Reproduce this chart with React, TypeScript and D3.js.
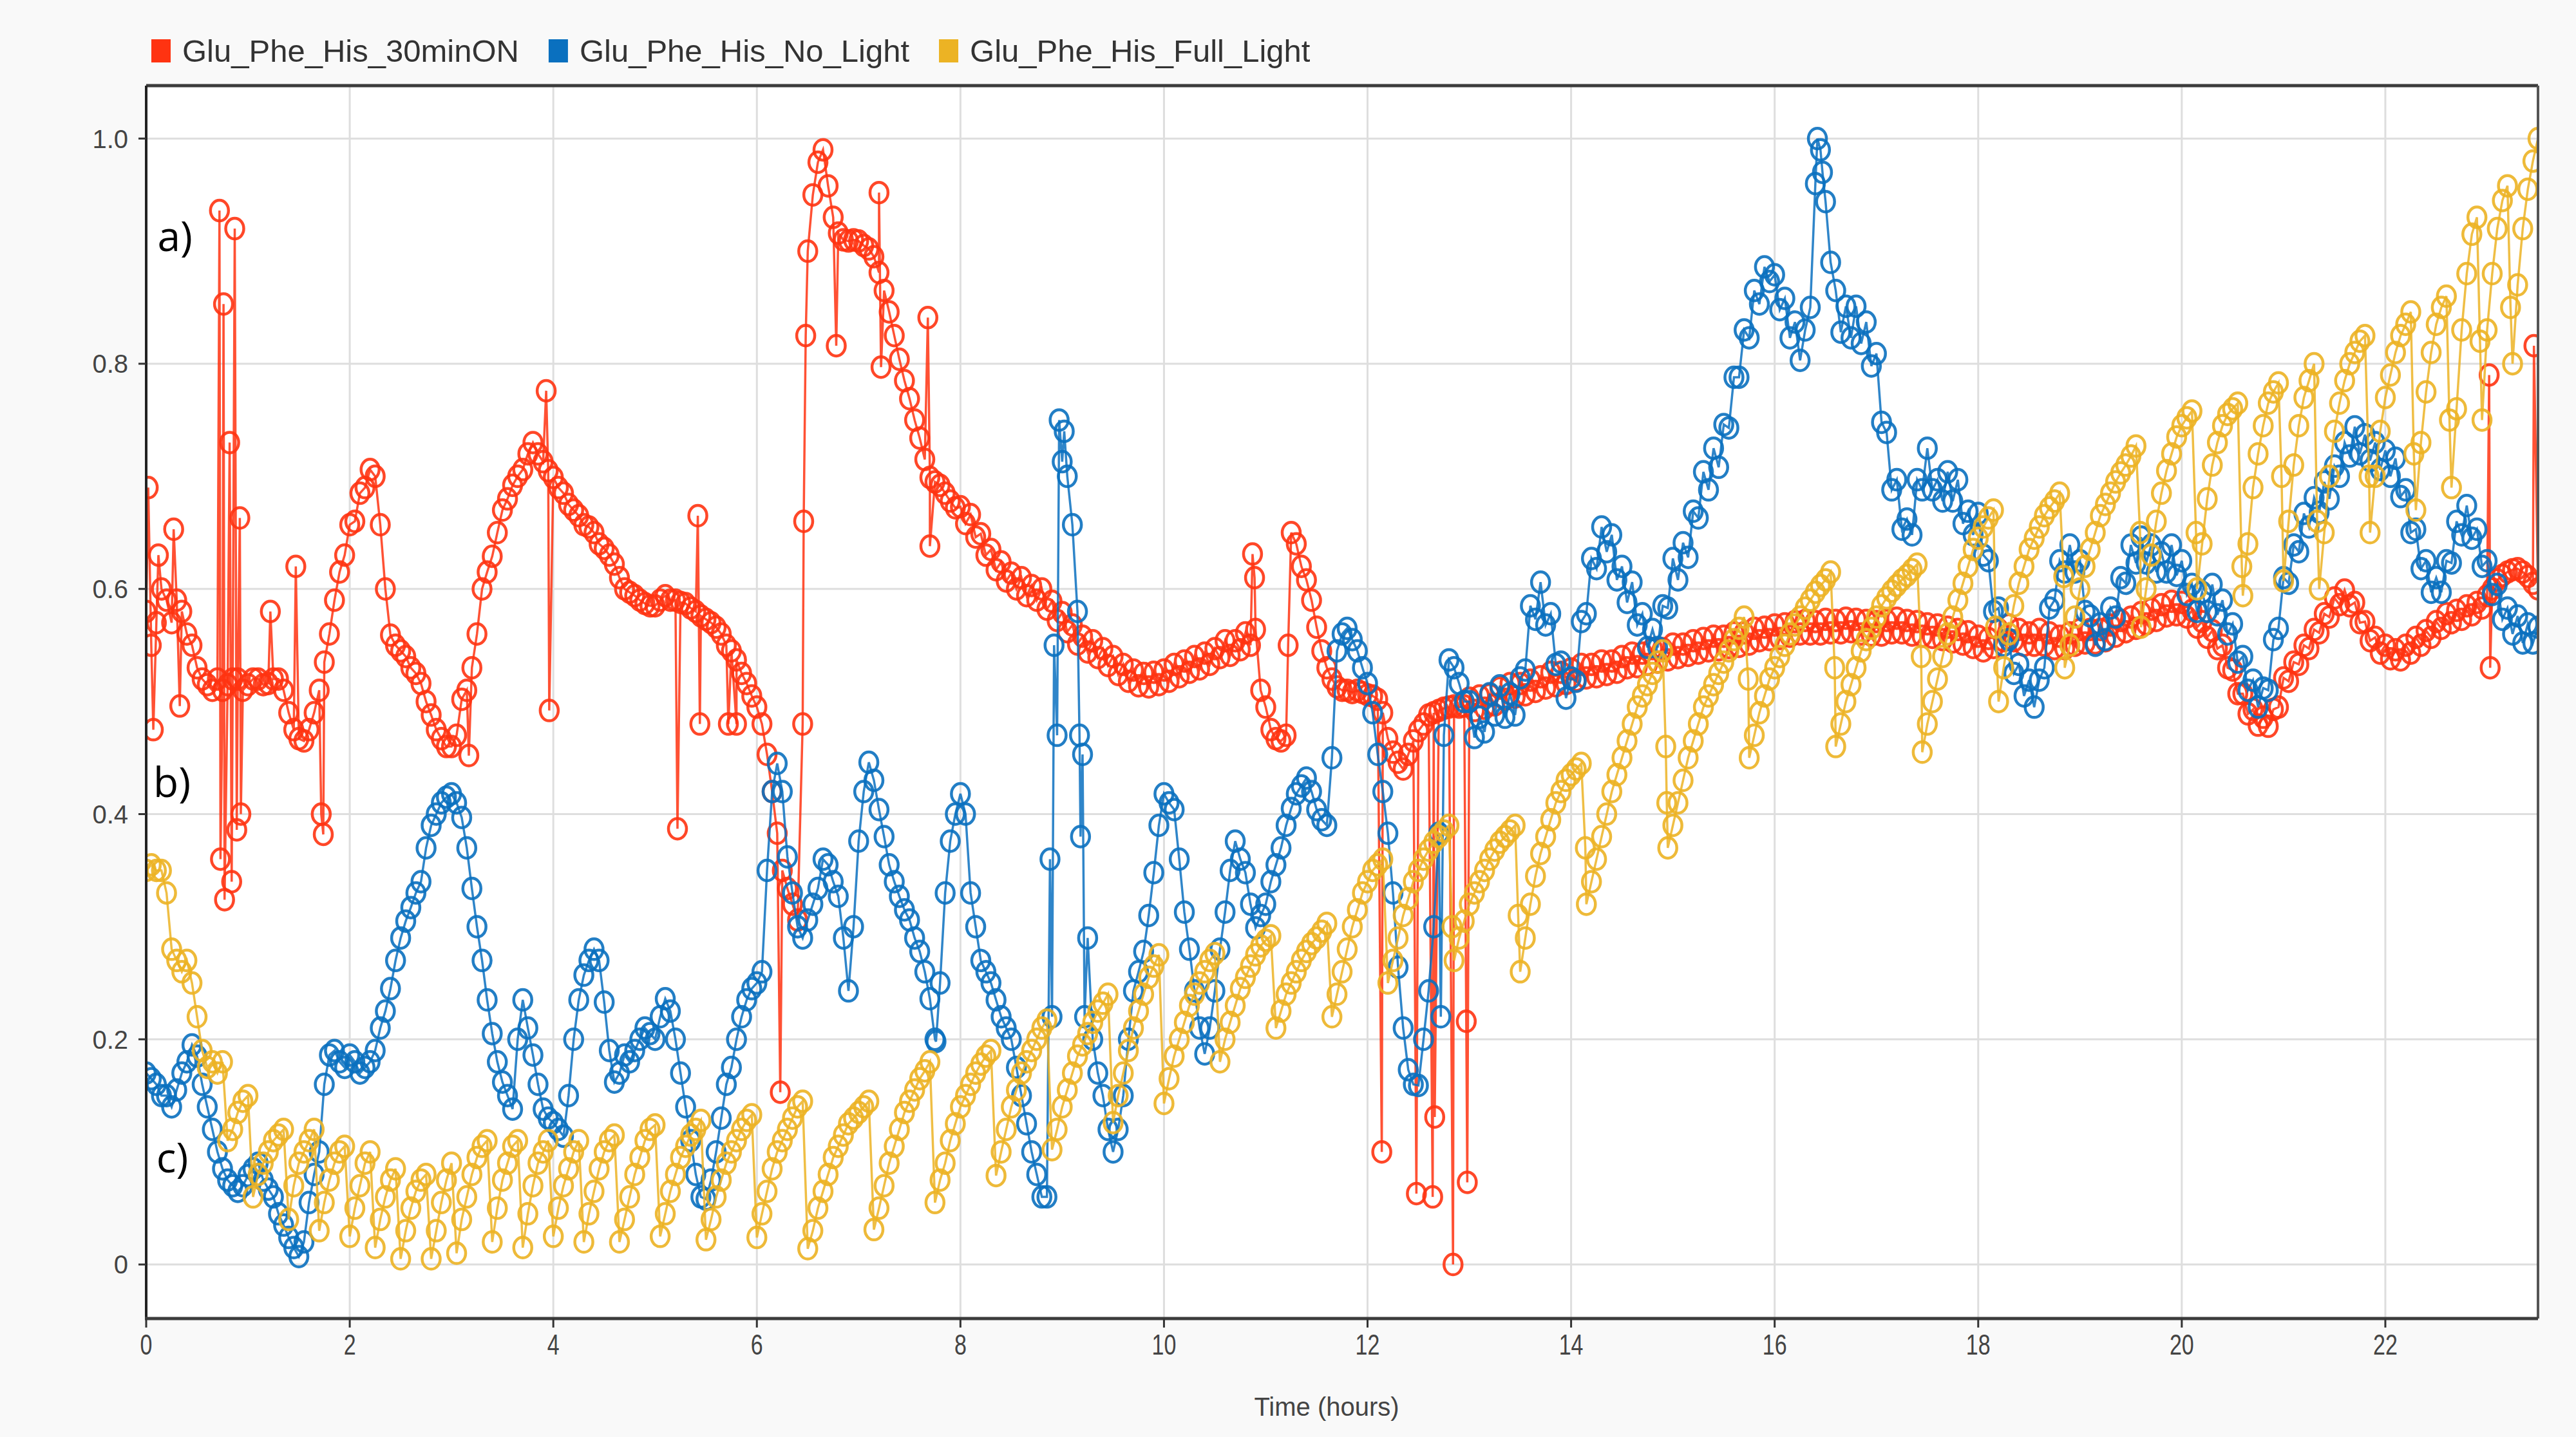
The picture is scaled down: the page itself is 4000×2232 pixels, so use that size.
import React, { useEffect, useRef } from 'react';
import * as d3 from 'd3';

// samples are 3 minutes apart (0.05 h), starting at t = 0
const SAMPLE_STEP = 0.05;

const seriesNames = ['Glu_Phe_His_30minON', 'Glu_Phe_His_No_Light', 'Glu_Phe_His_Full_Light'];
const seriesColors = ['#ff3311', '#0a70bf', '#ecb324'];

const xTicks = [0, 2, 4, 6, 8, 10, 12, 14, 16, 18, 20, 22];
const yTicks = [0, 0.2, 0.4, 0.6, 0.8, 1.0];
const panelLabels = ['a)', 'b)', 'c)'];

// Glu_Phe_His_30minON, one row per hour
const red30minOn = [
  0.58, 0.55, 0.57, 0.6, 0.59, 0.57, 0.59, 0.58, 0.56, 0.55, 0.53, 0.52, 0.515, 0.51, 0.52, 0.51, 0.515, 0.52, 0.52, 0.51,
  0.515, 0.52, 0.52, 0.515, 0.516, 0.52, 0.52, 0.51, 0.49, 0.475, 0.467, 0.465, 0.475, 0.49, 0.51, 0.535, 0.56, 0.59, 0.615, 0.63,
  0.657, 0.66, 0.685, 0.69, 0.706, 0.7, 0.657, 0.6, 0.559, 0.55, 0.545, 0.54, 0.53, 0.525, 0.516, 0.5, 0.488, 0.475, 0.467, 0.46,
  0.46, 0.47, 0.502, 0.51, 0.53, 0.56, 0.6, 0.615, 0.629, 0.65, 0.67, 0.68, 0.692, 0.7, 0.706, 0.72, 0.73, 0.72, 0.713, 0.705,
  0.699, 0.69, 0.685, 0.675, 0.67, 0.665, 0.657, 0.655, 0.65, 0.64, 0.636, 0.63, 0.622, 0.61, 0.6, 0.597, 0.594, 0.59, 0.587, 0.585,
  0.585, 0.59, 0.594, 0.59, 0.59, 0.588, 0.587, 0.583, 0.58, 0.576, 0.573, 0.57, 0.566, 0.56, 0.55, 0.545, 0.537, 0.525, 0.516, 0.505,
  0.495, 0.48, 0.453, 0.42, 0.383, 0.35, 0.334, 0.32, 0.306, 0.48, 0.9, 0.95, 0.979, 0.99, 0.958, 0.93, 0.916, 0.91, 0.909, 0.91,
  0.909, 0.905, 0.902, 0.895, 0.881, 0.865, 0.846, 0.825, 0.804, 0.785, 0.769, 0.75, 0.734, 0.715, 0.699, 0.695, 0.692, 0.685, 0.678, 0.672,
  0.673, 0.658, 0.666, 0.646, 0.649, 0.63, 0.635, 0.617, 0.624, 0.607, 0.614, 0.6, 0.61, 0.594, 0.603, 0.59, 0.6, 0.582, 0.589, 0.572,
  0.579, 0.562, 0.568, 0.551, 0.558, 0.544, 0.554, 0.539, 0.547, 0.532, 0.54, 0.524, 0.533, 0.518, 0.528, 0.514, 0.525, 0.513, 0.526, 0.515,
  0.528, 0.518, 0.533, 0.522, 0.536, 0.526, 0.54, 0.529, 0.543, 0.533, 0.547, 0.539, 0.554, 0.541, 0.554, 0.546, 0.561, 0.55, 0.564, 0.51,
  0.495, 0.475, 0.467, 0.465, 0.47, 0.65, 0.64, 0.62, 0.608, 0.59, 0.566, 0.545, 0.53, 0.52, 0.513, 0.51, 0.51, 0.508, 0.51, 0.508,
  0.506, 0.505, 0.502, 0.49, 0.467, 0.455, 0.446, 0.44, 0.453, 0.465, 0.474, 0.48, 0.488, 0.49, 0.492, 0.494, 0.495, 0.496, 0.495, 0.496,
  0.503, 0.492, 0.505, 0.494, 0.506, 0.497, 0.512, 0.502, 0.516, 0.504, 0.516, 0.506, 0.519, 0.509, 0.522, 0.512, 0.526, 0.514, 0.526, 0.516,
  0.529, 0.519, 0.533, 0.521, 0.533, 0.522, 0.536, 0.524, 0.536, 0.526, 0.54, 0.53, 0.543, 0.531, 0.543, 0.533, 0.547, 0.535, 0.547, 0.537,
  0.551, 0.539, 0.551, 0.541, 0.554, 0.543, 0.556, 0.545, 0.558, 0.546, 0.558, 0.548, 0.561, 0.549, 0.561, 0.551, 0.565, 0.554, 0.566, 0.555,
  0.568, 0.556, 0.569, 0.558, 0.571, 0.56, 0.572, 0.56, 0.571, 0.56, 0.573, 0.561, 0.572, 0.561, 0.574, 0.562, 0.573, 0.56, 0.572, 0.559,
  0.571, 0.559, 0.572, 0.561, 0.574, 0.561, 0.572, 0.559, 0.571, 0.558, 0.569, 0.557, 0.568, 0.555, 0.566, 0.553, 0.564, 0.551, 0.562, 0.548,
  0.558, 0.545, 0.556, 0.548, 0.564, 0.554, 0.568, 0.554, 0.564, 0.55, 0.561, 0.55, 0.564, 0.55, 0.561, 0.547, 0.558, 0.547, 0.561, 0.55,
  0.564, 0.552, 0.564, 0.552, 0.564, 0.554, 0.568, 0.558, 0.572, 0.562, 0.575, 0.565, 0.579, 0.569, 0.582, 0.572, 0.586, 0.576, 0.589, 0.577,
  0.588, 0.575, 0.581, 0.566, 0.571, 0.557, 0.563, 0.547, 0.55, 0.53, 0.528, 0.507, 0.507, 0.489, 0.493, 0.479, 0.486, 0.478, 0.493, 0.495,
  0.521, 0.518, 0.535, 0.533, 0.55, 0.547, 0.564, 0.561, 0.578, 0.575, 0.592, 0.586, 0.599, 0.585, 0.588, 0.57, 0.571, 0.554, 0.557, 0.543,
  0.55, 0.538, 0.546, 0.537, 0.55, 0.543, 0.557, 0.55, 0.563, 0.557, 0.571, 0.565, 0.578, 0.57, 0.581, 0.573, 0.585, 0.577, 0.588, 0.583,
  0.594, 0.6, 0.608, 0.612, 0.615, 0.617, 0.618, 0.615, 0.611, 0.605, 0.6,
];

// isolated readings between regular samples: [hours, value]
const red30minOnSpikes: [number, number][] = [
  [0.02, 0.69], [0.07, 0.475], [0.12, 0.63], [0.27, 0.653], [0.33, 0.496],
  [0.72, 0.936], [0.73, 0.36], [0.76, 0.853], [0.77, 0.324], [0.82, 0.73], [0.84, 0.34],
  [0.87, 0.92], [0.89, 0.386], [0.92, 0.663], [0.93, 0.4],
  [1.22, 0.58], [1.47, 0.62], [1.72, 0.4], [1.74, 0.382],
  [3.17, 0.452], [3.93, 0.776], [3.96, 0.492],
  [5.22, 0.387], [5.42, 0.665], [5.44, 0.48], [5.72, 0.48], [5.8, 0.48],
  [6.23, 0.153], [6.46, 0.66], [6.48, 0.825],
  [6.78, 0.816], [7.2, 0.952], [7.22, 0.797], [7.68, 0.841], [7.7, 0.638],
  [10.87, 0.631], [10.89, 0.61], [11.22, 0.55],
  [12.14, 0.1], [12.48, 0.063], [12.64, 0.06], [12.66, 0.131], [12.84, 0.0], [12.97, 0.216], [12.98, 0.073],
  [23.02, 0.79], [23.03, 0.53], [23.46, 0.816],
];

// Glu_Phe_His_No_Light, one row per hour
const blueNoLight = [
  0.17, 0.165, 0.16, 0.15, 0.15, 0.14, 0.155, 0.17, 0.18, 0.195, 0.185, 0.16, 0.14, 0.12, 0.1, 0.085, 0.075, 0.07, 0.065, 0.07,
  0.079, 0.085, 0.09, 0.075, 0.067, 0.06, 0.045, 0.035, 0.024, 0.015, 0.007, 0.02, 0.055, 0.08, 0.1, 0.16, 0.186, 0.19, 0.18, 0.175,
  0.186, 0.18, 0.17, 0.175, 0.18, 0.19, 0.21, 0.225, 0.245, 0.27, 0.29, 0.305, 0.317, 0.33, 0.34, 0.37, 0.39, 0.4, 0.41, 0.415,
  0.418, 0.41, 0.397, 0.37, 0.334, 0.3, 0.27, 0.235, 0.205, 0.18, 0.162, 0.15, 0.138, 0.2, 0.235, 0.21, 0.186, 0.16, 0.138, 0.13,
  0.126, 0.12, 0.114, 0.15, 0.2, 0.235, 0.257, 0.27, 0.28, 0.27, 0.233, 0.19, 0.162, 0.17, 0.186, 0.18, 0.19, 0.2, 0.21, 0.205,
  0.2, 0.22, 0.236, 0.225, 0.2, 0.17, 0.14, 0.11, 0.08, 0.06, 0.058, 0.075, 0.1, 0.13, 0.16, 0.175, 0.2, 0.22, 0.235, 0.245,
  0.25, 0.26, 0.35, 0.42, 0.445, 0.42, 0.362, 0.33, 0.3, 0.29, 0.306, 0.32, 0.334, 0.36, 0.355, 0.34, 0.327, 0.29, 0.243, 0.3,
  0.376, 0.42, 0.446, 0.43, 0.404, 0.38, 0.355, 0.34, 0.327, 0.315, 0.306, 0.29, 0.278, 0.26, 0.236, 0.2, 0.25, 0.33, 0.376, 0.4,
  0.418, 0.4, 0.33, 0.3, 0.27, 0.26, 0.25, 0.235, 0.22, 0.21, 0.2, 0.175, 0.15, 0.125, 0.1, 0.08, 0.06, 0.06, 0.22, 0.47,
  0.713, 0.7, 0.657, 0.58, 0.453, 0.29, 0.2, 0.17, 0.15, 0.12, 0.1, 0.12, 0.15, 0.2, 0.243, 0.26, 0.278, 0.31, 0.348, 0.39,
  0.418, 0.41, 0.404, 0.36, 0.313, 0.28, 0.243, 0.21, 0.187, 0.21, 0.243, 0.28, 0.313, 0.35, 0.376, 0.36, 0.348, 0.32, 0.299, 0.31,
  0.32, 0.34, 0.355, 0.37, 0.39, 0.405, 0.418, 0.425, 0.432, 0.42, 0.404, 0.395, 0.39, 0.45, 0.545, 0.56, 0.565, 0.555, 0.545, 0.53,
  0.516, 0.49, 0.453, 0.42, 0.383, 0.33, 0.264, 0.21, 0.173, 0.16, 0.159, 0.2, 0.243, 0.3, 0.383, 0.47, 0.537, 0.53, 0.516, 0.5,
  0.5, 0.468, 0.486, 0.473, 0.507, 0.488, 0.514, 0.486, 0.507, 0.488, 0.521, 0.528, 0.585, 0.573, 0.606, 0.568, 0.578, 0.533, 0.535, 0.503,
  0.521, 0.518, 0.571, 0.578, 0.627, 0.618, 0.655, 0.633, 0.648, 0.608, 0.62, 0.588, 0.606, 0.568, 0.578, 0.548, 0.564, 0.548, 0.585, 0.583,
  0.627, 0.608, 0.641, 0.628, 0.669, 0.663, 0.704, 0.688, 0.725, 0.708, 0.746, 0.743, 0.788, 0.788, 0.83, 0.823, 0.865, 0.853, 0.886, 0.873,
  0.879, 0.848, 0.858, 0.823, 0.837, 0.803, 0.83, 0.85, 0.96, 0.99, 0.944, 0.89, 0.865, 0.828, 0.851, 0.823, 0.851, 0.818, 0.837, 0.798,
  0.809, 0.748, 0.739, 0.688, 0.697, 0.653, 0.662, 0.648, 0.697, 0.688, 0.725, 0.688, 0.697, 0.678, 0.704, 0.678, 0.697, 0.658, 0.669, 0.648,
  0.667, 0.63, 0.625, 0.58, 0.583, 0.55, 0.555, 0.525, 0.533, 0.505, 0.519, 0.495, 0.519, 0.53, 0.583, 0.59, 0.625, 0.615, 0.639, 0.615,
  0.625, 0.58, 0.576, 0.55, 0.569, 0.555, 0.583, 0.575, 0.61, 0.605, 0.639, 0.623, 0.646, 0.623, 0.639, 0.615, 0.632, 0.615, 0.639, 0.612,
  0.625, 0.595, 0.604, 0.58, 0.597, 0.58, 0.604, 0.577, 0.59, 0.56, 0.569, 0.535, 0.54, 0.51, 0.519, 0.495, 0.512, 0.51, 0.555, 0.565,
  0.61, 0.605, 0.639, 0.633, 0.667, 0.655, 0.681, 0.668, 0.695, 0.68, 0.709, 0.7, 0.73, 0.718, 0.744, 0.72, 0.737, 0.714, 0.73, 0.706,
  0.723, 0.7, 0.716, 0.682, 0.688, 0.65, 0.653, 0.618, 0.625, 0.597, 0.61, 0.597, 0.625, 0.623, 0.66, 0.648, 0.674, 0.645, 0.653, 0.62,
  0.625, 0.595, 0.604, 0.573, 0.583, 0.56, 0.576, 0.552, 0.569, 0.552, 0.566,
];

const blueNoLightSpikes: [number, number][] = [
  [7.76, 0.198], [8.88, 0.36], [8.92, 0.55], [8.97, 0.75], [9.02, 0.74],
  [9.17, 0.47], [9.18, 0.38], [9.22, 0.22], [12.72, 0.22], [16.42, 1.0], [16.47, 0.97],
];

// Glu_Phe_His_Full_Light, one row per hour
const yellowFullLight = [
  0.35, 0.355, 0.35, 0.35, 0.33, 0.28, 0.27, 0.26, 0.27, 0.25, 0.22, 0.19, 0.175, 0.18, 0.17, 0.18, 0.11, 0.12, 0.135, 0.145,
  0.15, 0.06, 0.08, 0.09, 0.1, 0.11, 0.115, 0.12, 0.04, 0.07, 0.09, 0.1, 0.11, 0.12, 0.03, 0.055, 0.075, 0.09, 0.1, 0.105,
  0.025, 0.05, 0.07, 0.09, 0.1, 0.015, 0.04, 0.06, 0.075, 0.085, 0.005, 0.03, 0.05, 0.065, 0.075, 0.08, 0.005, 0.03, 0.055, 0.075,
  0.09, 0.01, 0.04, 0.06, 0.08, 0.095, 0.105, 0.11, 0.02, 0.05, 0.075, 0.09, 0.105, 0.11, 0.015, 0.045, 0.07, 0.09, 0.1, 0.11,
  0.025, 0.05, 0.07, 0.085, 0.1, 0.11, 0.02, 0.045, 0.065, 0.085, 0.1, 0.11, 0.115, 0.02, 0.04, 0.06, 0.08, 0.095, 0.11, 0.12,
  0.124, 0.025, 0.045, 0.065, 0.08, 0.095, 0.105, 0.115, 0.12, 0.128, 0.022, 0.04, 0.06, 0.075, 0.09, 0.1, 0.11, 0.12, 0.128, 0.133,
  0.024, 0.045, 0.065, 0.085, 0.1, 0.11, 0.12, 0.13, 0.14, 0.145, 0.014, 0.03, 0.05, 0.065, 0.08, 0.095, 0.105, 0.115, 0.125, 0.13,
  0.135, 0.14, 0.145, 0.031, 0.05, 0.07, 0.09, 0.105, 0.12, 0.135, 0.145, 0.155, 0.165, 0.172, 0.18, 0.055, 0.075, 0.09, 0.11, 0.125,
  0.14, 0.15, 0.16, 0.17, 0.178, 0.185, 0.19, 0.079, 0.1, 0.12, 0.14, 0.155, 0.17, 0.18, 0.19, 0.2, 0.21, 0.217, 0.102, 0.12,
  0.14, 0.155, 0.17, 0.185, 0.195, 0.205, 0.215, 0.225, 0.232, 0.24, 0.126, 0.15, 0.17, 0.19, 0.21, 0.225, 0.24, 0.255, 0.265, 0.275,
  0.143, 0.165, 0.185, 0.2, 0.215, 0.23, 0.24, 0.25, 0.26, 0.27, 0.276, 0.18, 0.2, 0.215, 0.23, 0.245, 0.255, 0.265, 0.275, 0.283,
  0.288, 0.292, 0.21, 0.225, 0.24, 0.25, 0.26, 0.27, 0.278, 0.285, 0.29, 0.296, 0.303, 0.22, 0.24, 0.26, 0.28, 0.3, 0.315, 0.33,
  0.34, 0.35, 0.355, 0.36, 0.25, 0.27, 0.29, 0.31, 0.325, 0.34, 0.35, 0.36, 0.368, 0.375, 0.38, 0.385, 0.39, 0.27, 0.29, 0.305,
  0.32, 0.33, 0.34, 0.35, 0.36, 0.368, 0.375, 0.38, 0.385, 0.39, 0.26, 0.29, 0.32, 0.345, 0.365, 0.38, 0.395, 0.41, 0.42, 0.43,
  0.435, 0.44, 0.445, 0.32, 0.34, 0.36, 0.38, 0.4, 0.42, 0.435, 0.45, 0.465, 0.48, 0.495, 0.505, 0.515, 0.525, 0.535, 0.545, 0.37,
  0.39, 0.41, 0.43, 0.45, 0.465, 0.48, 0.495, 0.505, 0.515, 0.525, 0.535, 0.545, 0.555, 0.565, 0.575, 0.45, 0.47, 0.49, 0.505, 0.52,
  0.53, 0.54, 0.55, 0.56, 0.568, 0.575, 0.583, 0.59, 0.597, 0.603, 0.608, 0.615, 0.46, 0.48, 0.5, 0.515, 0.53, 0.545, 0.555, 0.565,
  0.575, 0.585, 0.592, 0.598, 0.603, 0.608, 0.612, 0.617, 0.622, 0.455, 0.48, 0.5, 0.52, 0.54, 0.56, 0.575, 0.59, 0.605, 0.62, 0.635,
  0.645, 0.655, 0.663, 0.67, 0.5, 0.53, 0.56, 0.585, 0.605, 0.62, 0.635, 0.645, 0.655, 0.665, 0.672, 0.678, 0.685, 0.53, 0.55, 0.575,
  0.6, 0.62, 0.635, 0.65, 0.665, 0.675, 0.685, 0.695, 0.703, 0.71, 0.718, 0.727, 0.566, 0.6, 0.63, 0.66, 0.685, 0.705, 0.72, 0.735,
  0.745, 0.752, 0.758, 0.6, 0.64, 0.68, 0.71, 0.73, 0.745, 0.755, 0.76, 0.765, 0.594, 0.64, 0.69, 0.72, 0.745, 0.765, 0.775, 0.783,
  0.607, 0.66, 0.71, 0.745, 0.77, 0.785, 0.8, 0.6, 0.65, 0.7, 0.74, 0.765, 0.785, 0.8, 0.81, 0.82, 0.825, 0.65, 0.7, 0.74,
  0.77, 0.79, 0.81, 0.825, 0.835, 0.846, 0.67, 0.73, 0.775, 0.81, 0.835, 0.85, 0.86, 0.69, 0.76, 0.83, 0.88, 0.915, 0.93, 0.75,
  0.83, 0.88, 0.92, 0.945, 0.958, 0.8, 0.87, 0.92, 0.955, 0.98, 1.0,
];

const yellowFullLightSpikes: [number, number][] = [
  [12.83, 0.3], [13.48, 0.31], [14.14, 0.37], [14.93, 0.46], [14.94, 0.41], [15.74, 0.52],
  [16.59, 0.53], [17.44, 0.54], [18.17, 0.566], [18.84, 0.611], [19.59, 0.65], [20.14, 0.65],
  [20.59, 0.62], [20.98, 0.7], [21.33, 0.66], [21.84, 0.7], [22.28, 0.72], [22.63, 0.75],
  [22.93, 0.82], [23.23, 0.85],
];

const seriesValues = [red30minOn, blueNoLight, yellowFullLight];
const seriesSpikes = [red30minOnSpikes, blueNoLightSpikes, yellowFullLightSpikes];

interface Reading {
  t: number;
  v: number;
}

const W = 4000;
const H = 2232;
const FONT = '"Liberation Sans", Arial, sans-serif';

export default function App() {
  const svgRef = useRef<SVGSVGElement>(null);

  useEffect(() => {
    if (!svgRef.current) return;
    document.body.style.margin = '0';
    document.body.style.background = '#f9f9f9';

    const svg = d3.select(svgRef.current);
    svg.selectAll('*').remove();

    const margin = { top: 133, right: 59, bottom: 184, left: 227 };
    const innerW = W - margin.left - margin.right;
    const innerH = H - margin.top - margin.bottom;

    const x = d3.scaleLinear().domain([0, 23.5]).range([margin.left, margin.left + innerW]);
    const y = d3.scaleLinear().domain([-0.048, 1.047]).range([margin.top + innerH, margin.top]);

    svg.append('rect').attr('width', W).attr('height', H).attr('fill', '#f9f9f9');
    svg.append('rect')
      .attr('x', margin.left).attr('y', margin.top)
      .attr('width', innerW).attr('height', innerH)
      .attr('fill', '#ffffff');

    svg.append('defs').append('clipPath').attr('id', 'plot-clip')
      .append('rect')
      .attr('x', margin.left).attr('y', margin.top)
      .attr('width', innerW).attr('height', innerH);

    // grid
    const grid = svg.append('g');
    grid.selectAll('.vgrid')
      .data(xTicks)
      .join('line')
      .attr('x1', d => x(d)).attr('x2', d => x(d))
      .attr('y1', margin.top).attr('y2', margin.top + innerH)
      .attr('stroke', '#dedede').attr('stroke-width', 3);
    grid.selectAll('.hgrid')
      .data(yTicks)
      .join('line')
      .attr('x1', margin.left).attr('x2', margin.left + innerW)
      .attr('y1', d => y(d)).attr('y2', d => y(d))
      .attr('stroke', '#dedede').attr('stroke-width', 3);

    // series: line first, then hollow markers
    const plot = svg.append('g').attr('clip-path', 'url(#plot-clip)');
    const line = d3.line<Reading>().x(d => x(d.t)).y(d => y(d.v));

    seriesValues.forEach((values, si) => {
      const readings: Reading[] = values
        .map((v, i) => ({ t: i * SAMPLE_STEP, v }))
        .concat(seriesSpikes[si].map(([t, v]) => ({ t, v })))
        .sort((a, b) => a.t - b.t);
      const color = seriesColors[si];
      const g = plot.append('g');
      g.append('path')
        .datum(readings)
        .attr('fill', 'none')
        .attr('stroke', color)
        .attr('stroke-width', 3.5)
        .attr('stroke-opacity', 0.85)
        .attr('d', line);
      g.selectAll('ellipse')
        .data(readings)
        .join('ellipse')
        .attr('cx', d => x(d.t))
        .attr('cy', d => y(d.v))
        .attr('rx', 14)
        .attr('ry', 16)
        .attr('fill', 'none')
        .attr('stroke', color)
        .attr('stroke-width', 4.5)
        .attr('stroke-opacity', 0.9);
    });

    // frame and axes
    const frame = svg.append('g');
    frame.append('line')
      .attr('x1', margin.left).attr('x2', margin.left + innerW)
      .attr('y1', margin.top).attr('y2', margin.top)
      .attr('stroke', '#3c3c3c').attr('stroke-width', 5);
    frame.append('line')
      .attr('x1', margin.left + innerW).attr('x2', margin.left + innerW)
      .attr('y1', margin.top).attr('y2', margin.top + innerH)
      .attr('stroke', '#555555').attr('stroke-width', 4);
    frame.append('line')
      .attr('x1', margin.left).attr('x2', margin.left)
      .attr('y1', margin.top).attr('y2', margin.top + innerH)
      .attr('stroke', '#222222').attr('stroke-width', 4);
    frame.append('line')
      .attr('x1', margin.left - 2).attr('x2', margin.left + innerW)
      .attr('y1', margin.top + innerH).attr('y2', margin.top + innerH)
      .attr('stroke', '#3c3c3c').attr('stroke-width', 5);

    // y ticks
    const yAxis = svg.append('g');
    yAxis.selectAll('line')
      .data(yTicks)
      .join('line')
      .attr('x1', margin.left - 12).attr('x2', margin.left)
      .attr('y1', d => y(d)).attr('y2', d => y(d))
      .attr('stroke', '#333').attr('stroke-width', 3);
    yAxis.selectAll('text')
      .data(yTicks)
      .join('text')
      .attr('x', margin.left - 28)
      .attr('y', d => y(d))
      .attr('dy', '0.36em')
      .attr('text-anchor', 'end')
      .style('font-family', FONT)
      .style('font-size', '40px')
      .attr('fill', '#444')
      .text(d => (d === 0 ? '0' : d.toFixed(1)));

    // x ticks
    const xAxis = svg.append('g');
    xAxis.selectAll('line')
      .data(xTicks)
      .join('line')
      .attr('x1', d => x(d)).attr('x2', d => x(d))
      .attr('y1', margin.top + innerH).attr('y2', margin.top + innerH + 14)
      .attr('stroke', '#333').attr('stroke-width', 3);
    xAxis.selectAll('text')
      .data(xTicks)
      .join('text')
      .attr('transform', d => `translate(${x(d)},${margin.top + innerH + 56}) scale(1,1.3)`)
      .attr('text-anchor', 'middle')
      .style('font-family', FONT)
      .style('font-size', '34px')
      .attr('fill', '#444')
      .text(d => String(d));

    svg.append('text')
      .attr('x', 2060)
      .attr('y', 2199)
      .attr('text-anchor', 'middle')
      .style('font-family', FONT)
      .style('font-size', '40px')
      .attr('fill', '#444')
      .text('Time (hours)');

    // panel labels
    const panelAt: [number, number][] = [[0.11, 0.9], [0.07, 0.415], [0.1, 0.082]];
    svg.append('g').selectAll('text')
      .data(panelLabels)
      .join('text')
      .attr('x', (d, i) => x(panelAt[i][0]))
      .attr('y', (d, i) => y(panelAt[i][1]))
      .style('font-family', '"Open Sans", "Noto Sans", sans-serif')
      .style('font-size', '64px')
      .attr('fill', '#000')
      .text(d => d);

    // legend
    const legend = svg.append('g');
    let lx = 235;
    seriesNames.forEach((name, i) => {
      legend.append('rect')
        .attr('x', lx).attr('y', 61)
        .attr('width', 30).attr('height', 36)
        .attr('fill', seriesColors[i]);
      const t = legend.append('text')
        .attr('x', lx + 48)
        .attr('y', 96)
        .style('font-family', FONT)
        .style('font-size', '49px')
        .attr('fill', '#333')
        .text(name);
      const tw = (t.node() as SVGTextElement).getComputedTextLength();
      lx += 48 + tw + 46;
    });
  }, []);

  return <svg ref={svgRef} width={W} height={H} style={{ display: 'block' }} />;
}
